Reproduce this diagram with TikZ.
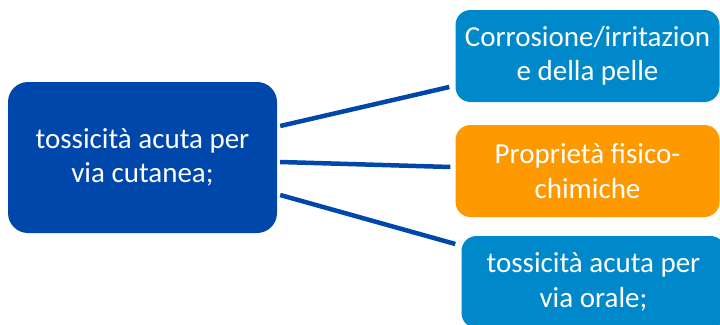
\documentclass[tikz,border=0pt]{standalone}
\usepackage{fontspec}
\setmainfont{Carlito}
\definecolor{tcdark}{RGB}{0,71,171}
\definecolor{tclight}{RGB}{0,137,202}
\definecolor{tcorange}{RGB}{255,153,0}
\usetikzlibrary{positioning,calc}

\begin{document}
\begin{tikzpicture}[x=1pt, y=-1pt,
    box/.style={rectangle, rounded corners=15pt, align=center, text=white,
                font=\fontsize{29}{34.5}\selectfont, inner sep=0pt},
    mainbox/.style={box, fill=tcdark, rounded corners=20pt,
                    minimum width=269pt, minimum height=151pt},
    subbox/.style={box, minimum width=264pt, minimum height=92pt},
    link/.style={draw=tcdark, line width=4.5pt}
  ]
    \useasboundingbox (0,0) rectangle (720,324);

    % Main node
    \node[mainbox] (cutanea) at (142.5,157.5) {tossicità acuta per\\via cutanea;};

    % Right column
    \node[subbox, fill=tclight]  (pelle)  at (587.5,56)  {Corrosione/irritazion\\e della pelle};
    \node[subbox, fill=tcorange] (fisico) at (587.5,171) {Proprietà fisico-\\chimiche};
    \node[subbox, fill=tclight]  (orale)  at (593.5,282) {tossicità acuta per\\via orale;};

    % Connectors
    \draw[link] ($(cutanea.east)+(3,-31.5)$) -- ($(pelle.west)+(-6,31)$);
    \draw[link] ($(cutanea.east)+(3,4.5)$)   -- ($(fisico.west)+(-5,-4)$);
    \draw[link] ($(cutanea.east)+(3,37.5)$)  -- ($(orale.west)+(-6,-38)$);
  \end{tikzpicture}
\end{document}
